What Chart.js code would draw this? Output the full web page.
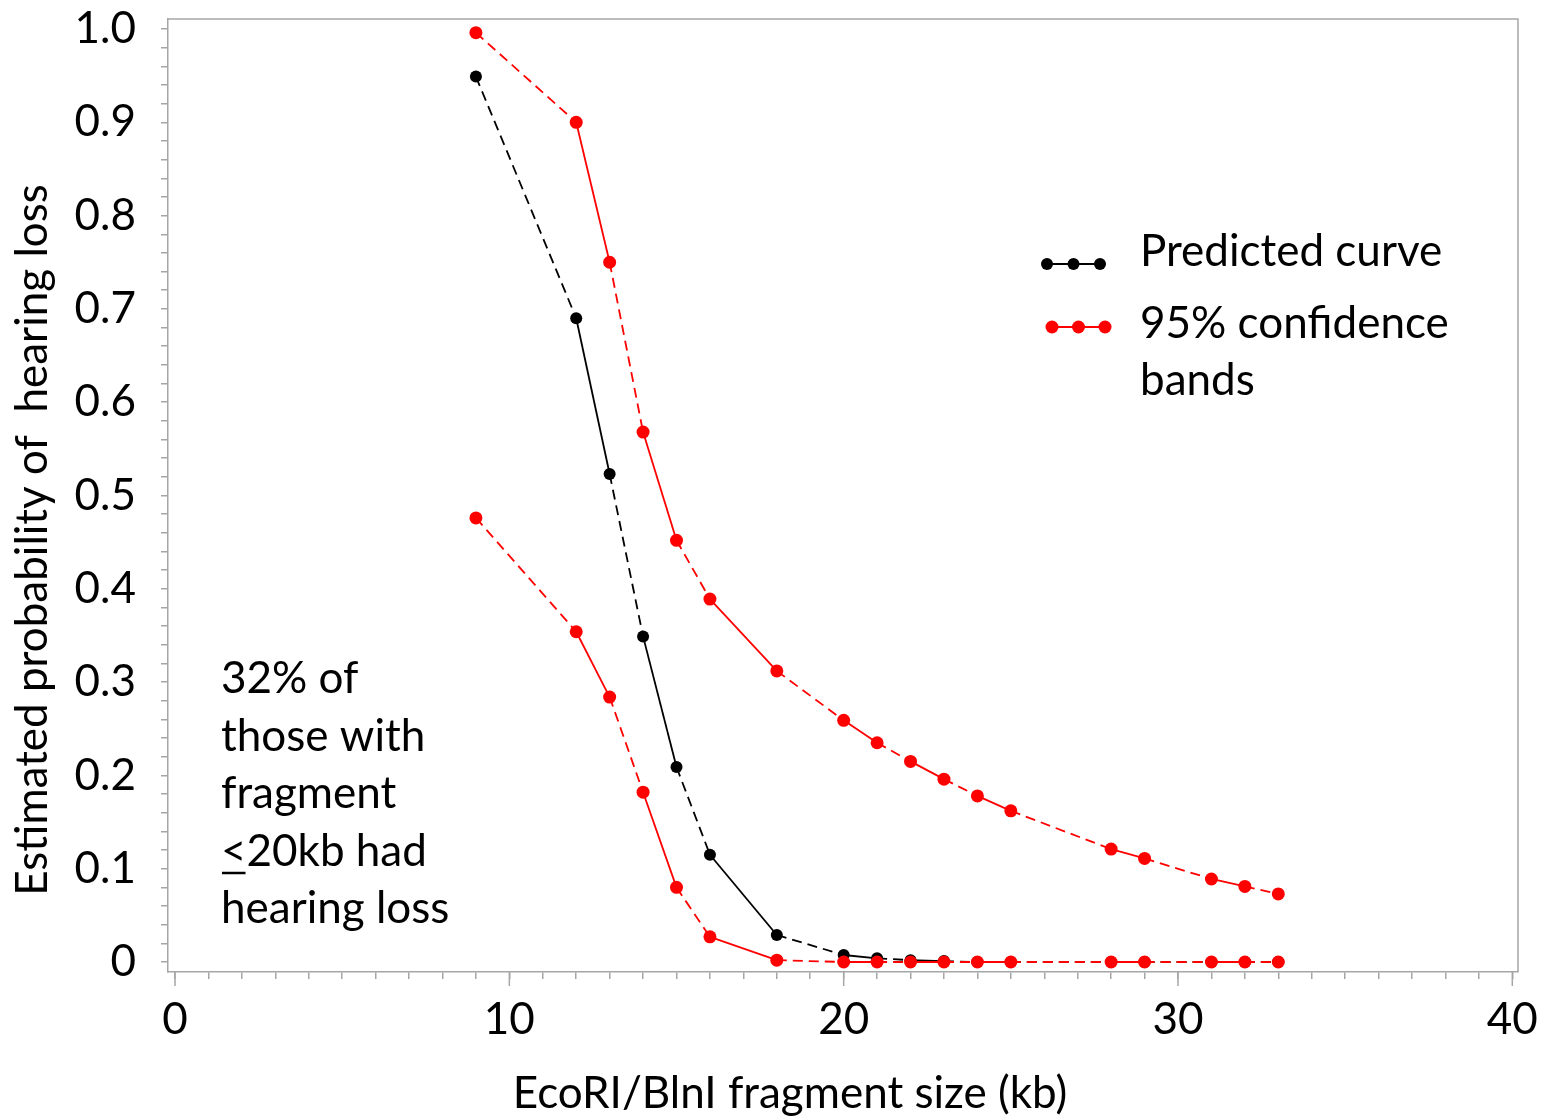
<!DOCTYPE html>
<html>
<head>
<meta charset="utf-8">
<script src="https://cdn.jsdelivr.net/npm/chart.js@4.4.1/dist/chart.umd.min.js"></script>
<style>
  html, body { margin: 0; padding: 0; background: #fff; }
  #wrap { width: 1561px; height: 1117px; }
</style>
</head>
<body>
<div id="wrap"><canvas id="grafico"></canvas></div>
<script>
// Dados
const tamanhos = [9, 12, 13, 14, 15, 16, 18, 20, 21, 22, 23, 24, 25, 28, 29, 31, 32, 33];
const previsto = [0.949, 0.690, 0.523, 0.349, 0.209, 0.115, 0.029, 0.0075, 0.004, 0.002, 0.001, 0, 0, 0, 0, 0, 0, 0];
const bandaSuperior = [0.996, 0.900, 0.750, 0.568, 0.452, 0.389, 0.312, 0.259, 0.235, 0.215, 0.196, 0.178, 0.162, 0.121, 0.111, 0.089, 0.081, 0.073];
const bandaInferior = [0.476, 0.354, 0.284, 0.182, 0.080, 0.027, 0.002, 0, 0, 0, 0, 0, 0, 0, 0, 0, 0, 0];
const ticksX = [0, 10, 20, 30, 40];
const legendas = ['Predicted curve', '95% confidence', 'bands'];
const nota = ['32% of', 'those with', 'fragment', '<20kb had', 'hearing loss'];
const tituloX = 'EcoRI/BlnI fragment size (kb)';
const tituloY = 'Estimated probability of  hearing loss';

const fonte = 'Lato';
const tamFonte = 44;
const cinza = '#a6a6a6';

function pontos(valores) {
    return tamanhos.map((x, i) => ({ x: x, y: valores[i] }));
}

// Tracejado alternado entre segmentos
const tracejado = ctx => (ctx.p0DataIndex % 2 === 0 ? [10, 6] : undefined);

function serie(valores, cor, raio) {
    return {
        data: pontos(valores),
        borderColor: cor,
        backgroundColor: cor,
        borderWidth: 1.8,
        pointRadius: raio,
        pointHoverRadius: raio,
        pointBorderWidth: 0,
        segment: { borderDash: tracejado }
    };
}

// Moldura, títulos, legenda e nota desenhados à mão
const extras = {
    id: 'extras',
    beforeDatasetsDraw(chart) {
        const c = chart.ctx;
        const a = chart.chartArea;
        c.save();
        c.strokeStyle = cinza;
        c.lineWidth = 1.5;
        c.beginPath();
        c.moveTo(a.left, a.top);
        c.lineTo(a.right, a.top);
        c.lineTo(a.right, a.bottom);
        c.stroke();
        c.restore();
    },
    afterDraw(chart) {
        const c = chart.ctx;
        c.save();
        // ticks maiores do eixo x
        const sx = chart.scales.x;
        c.strokeStyle = cinza;
        c.lineWidth = 1.5;
        ticksX.forEach(v => {
            const px = sx.getPixelForValue(v);
            c.beginPath();
            c.moveTo(px, chart.chartArea.bottom);
            c.lineTo(px, chart.chartArea.bottom + 14);
            c.stroke();
        });

        // legenda
        const linhas = [
            { y: 264, x0: 1047, cor: '#000', r: 6 },
            { y: 327, x0: 1052, cor: '#ff0000', r: 6.5 }
        ];
        linhas.forEach(l => {
            c.strokeStyle = l.cor;
            c.fillStyle = l.cor;
            c.lineWidth = 1.8;
            c.beginPath();
            c.moveTo(l.x0, l.y);
            c.lineTo(l.x0 + 53, l.y);
            c.stroke();
            for (let k = 0; k < 3; k++) {
                c.beginPath();
                c.arc(l.x0 + k * 26.5, l.y, l.r, 0, Math.PI * 2);
                c.fill();
            }
        });

        c.fillStyle = '#000';
        c.font = tamFonte + 'px ' + fonte;
        c.textBaseline = 'middle';
        c.textAlign = 'left';
        c.fillText(legendas[0], 1140, 252);
        c.fillText(legendas[1], 1140, 324);
        c.fillText(legendas[2], 1140, 381);

        // nota
        nota.forEach((t, i) => {
            c.fillText(t, 221, 679 + i * 57.5);
        });
        // sublinhado do "<"
        const w = c.measureText('<').width;
        c.lineWidth = 2.5;
        c.strokeStyle = '#000';
        c.beginPath();
        c.moveTo(222, 873);
        c.lineTo(220 + w, 873);
        c.stroke();

        // títulos dos eixos
        c.textAlign = 'center';
        c.fillText(tituloX, 790, 1094);
        c.translate(33, 540);
        c.rotate(-Math.PI / 2);
        c.fillText(tituloY, 0, 0);
        c.restore();
    }
};

const ctx = document.getElementById('grafico').getContext('2d');

new Chart(ctx, {
    type: 'line',
    data: {
        datasets: [
            serie(bandaSuperior, '#ff0000', 6.5),
            serie(bandaInferior, '#ff0000', 6.5),
            serie(previsto, '#000000', 6)
        ]
    },
    options: {
        responsive: true,
        maintainAspectRatio: false,
        animation: false,
        events: [],
        layout: { padding: { top: 19, right: 43, left: 0, bottom: 0 } },
        plugins: {
            legend: { display: false },
            tooltip: { enabled: false }
        },
        scales: {
            x: {
                type: 'linear',
                min: -0.21,
                max: 40.17,
                afterFit: s => {
                    s.height = 1117 - 972;
                    s.paddingLeft = 0;
                    s.paddingRight = 0;
                },
                afterBuildTicks: s => {
                    s.ticks = [];
                    for (let v = 0; v <= 40; v++) s.ticks.push({ value: v });
                },
                border: { display: true, color: cinza, width: 1.5 },
                grid: { drawOnChartArea: false, drawTicks: true, tickLength: 7, color: cinza, lineWidth: 1.5 },
                ticks: {
                    autoSkip: false,
                    maxRotation: 0,
                    padding: 14,
                    color: '#000',
                    font: { family: fonte, size: tamFonte },
                    callback: v => (v % 10 === 0 ? String(v) : '')
                },
                title: { display: false }
            },
            y: {
                type: 'linear',
                min: -0.0107,
                max: 1.0107,
                afterFit: s => {
                    s.width = 168;
                    s.paddingTop = 0;
                    s.paddingBottom = 0;
                },
                afterBuildTicks: s => {
                    s.ticks = [];
                    for (let k = 0; k <= 50; k++) s.ticks.push({ value: k / 50 });
                },
                border: { display: true, color: cinza, width: 1.5 },
                grid: { drawOnChartArea: false, drawTicks: true, tickLength: 7, color: cinza, lineWidth: 1.5 },
                ticks: {
                    autoSkip: false,
                    padding: 25,
                    color: '#000',
                    font: { family: fonte, size: tamFonte },
                    callback: v => {
                        const d = Math.round(v * 50);
                        if (d % 5 !== 0) return '';
                        if (d === 0) return '0';
                        return (d / 50).toFixed(1);
                    }
                },
                title: { display: false }
            }
        }
    },
    plugins: [extras]
});
</script>
</body>
</html>
